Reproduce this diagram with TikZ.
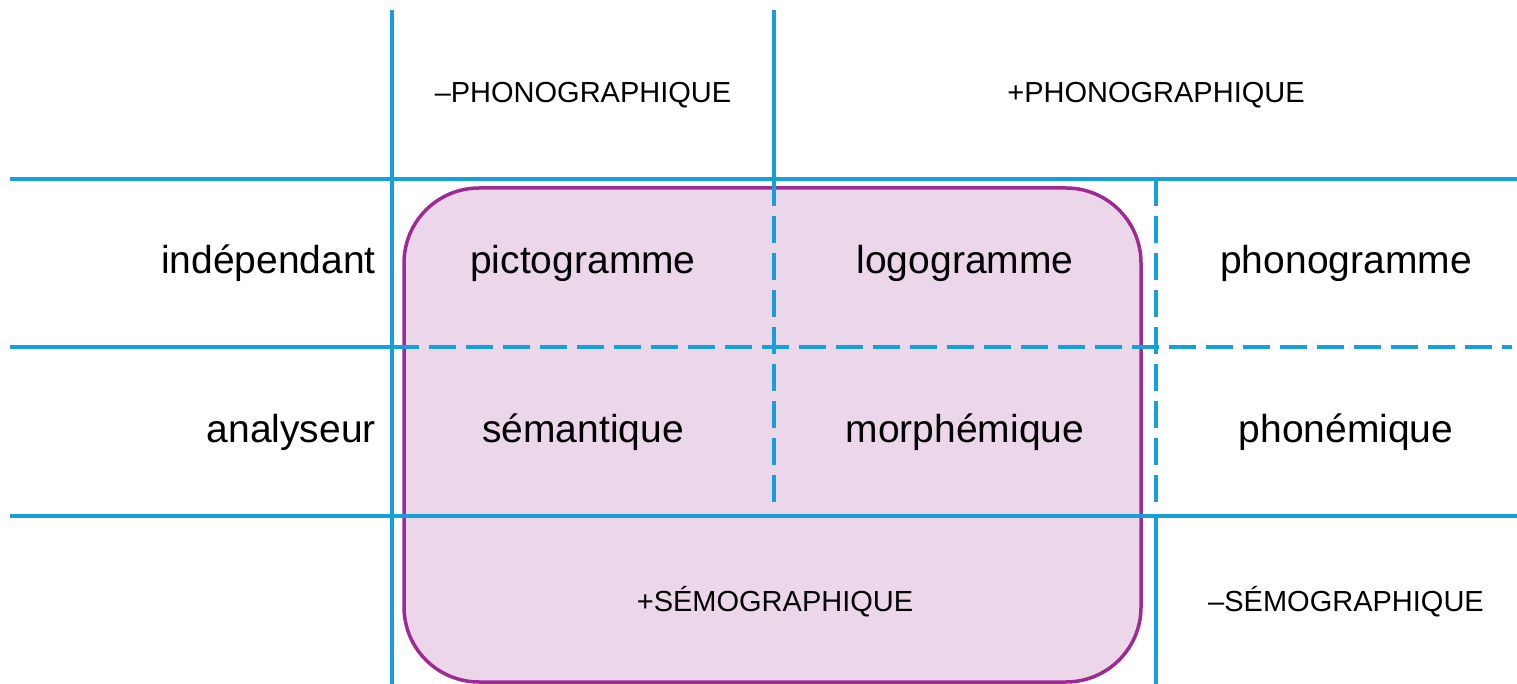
\documentclass[tikz,border=0pt]{standalone}
\usepackage{fontspec}
\setmainfont{Liberation Sans}
\definecolor{gridblue}{RGB}{22,160,219}
\definecolor{boxpurple}{RGB}{158,42,150}
\definecolor{boxfill}{RGB}{236,214,234}
\begin{document}
\begin{tikzpicture}[x=1pt,y=-1pt,
  solidline/.style={draw=gridblue,line width=4.5pt},
  dashline/.style={draw=gridblue,line width=3.2pt,dash pattern=on 27pt off 10pt},
  cell/.style={font=\fontsize{39}{44}\selectfont,anchor=center,inner sep=0pt},
  head/.style={font=\fontsize{29}{34}\selectfont,anchor=center,inner sep=0pt},
  rowlab/.style={font=\fontsize{39}{44}\selectfont,anchor=east,inner sep=0pt}]
\useasboundingbox (0,0) rectangle (1517,684);
% rounded box
\draw[fill=boxfill,draw=boxpurple,line width=3.5pt,rounded corners=75pt] (404,188) rectangle (1141,682);
% coordinates
\coordinate (v1t) at (392,10); \coordinate (v1b) at (392,684);
\coordinate (v2t) at (774,10); \coordinate (v2m) at (774,179); \coordinate (v2b) at (774,510);
\coordinate (v3t) at (1156,179); \coordinate (v3m) at (1156,505); \coordinate (v3s) at (1156,516); \coordinate (v3b) at (1156,684);
\coordinate (h1l) at (10,179); \coordinate (h1r) at (1517,179);
\coordinate (h2l) at (10,347); \coordinate (h2m) at (392,347); \coordinate (h2r) at (1512,347);
\coordinate (h3l) at (10,516); \coordinate (h3r) at (1517,516);
% dashed lines
\draw[dashline] (v2m) -- (v2b);
\draw[dashline] (v3t) -- (v3m);
\draw[dashline] (h2m) -- (h2r);
% solid lines
\draw[solidline] (v1t) -- (v1b);
\draw[solidline] (v2t) -- (v2m);
\draw[solidline] (v3s) -- (v3b);
\draw[solidline] (h1l) -- (h1r);
\draw[solidline] (h2l) -- (h2m);
\draw[solidline] (h3l) -- (h3r);
% texts
\node[head] (hA) at (583,95) {–PHONOGRAPHIQUE};
\node[head] (hB) at (1156,95) {+PHONOGRAPHIQUE};
\node[rowlab] (r1) at (376,263) {indépendant};
\node[rowlab] (r2) at (376,432) {analyseur};
\node[cell] (c11) at (583,263) {pictogramme};
\node[cell] (c12) at (965,263) {logogramme};
\node[cell] (c13) at (1346,263) {phonogramme};
\node[cell] (c21) at (583,432) {sémantique};
\node[cell] (c22) at (965,432) {morphémique};
\node[cell] (c23) at (1346,432) {phonémique};
\node[head] (fA) at (775,602) {+SÉMOGRAPHIQUE};
\node[head] (fB) at (1346,602) {–SÉMOGRAPHIQUE};
\end{tikzpicture}
\end{document}
